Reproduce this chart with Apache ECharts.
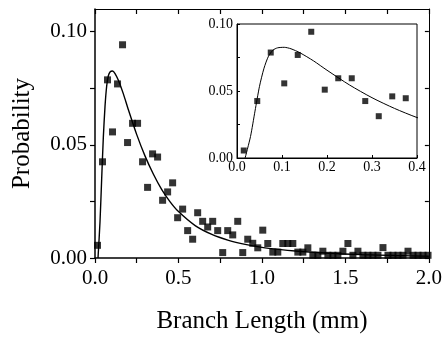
<!DOCTYPE html>
<html>
<head>
<meta charset="utf-8">
<script src="https://cdn.jsdelivr.net/npm/echarts@6/dist/echarts.min.js"></script>
<style>
html, body { margin: 0; padding: 0; background: #fff; }
#chart { width: 445px; height: 339px; }
</style>
</head>
<body>
<div id="chart"></div>
<script>
// histogram bin centres (mm) and measured probabilities
let binX = [0.015, 0.045, 0.075, 0.105, 0.135, 0.165, 0.195, 0.225, 0.255, 0.285,
    0.315, 0.345, 0.375, 0.405, 0.435, 0.465, 0.495, 0.525, 0.555, 0.585,
    0.615, 0.645, 0.675, 0.705, 0.735, 0.765, 0.795, 0.825, 0.855, 0.885,
    0.915, 0.945, 0.975, 1.005, 1.035, 1.065, 1.095, 1.125, 1.155, 1.185,
    1.215, 1.245, 1.275, 1.305, 1.335, 1.365, 1.395, 1.425, 1.455, 1.485,
    1.515, 1.545, 1.575, 1.605, 1.635, 1.665, 1.695, 1.725, 1.755, 1.785,
    1.815, 1.845, 1.875, 1.905, 1.935, 1.965, 1.995];
let binP = [0.0056, 0.0425, 0.0787, 0.0557, 0.0769, 0.0942, 0.0510, 0.0595, 0.0595, 0.0425,
    0.0312, 0.0460, 0.0446, 0.0255, 0.0292, 0.0332, 0.0178, 0.0216, 0.0121, 0.0083,
    0.0200, 0.0162, 0.0137, 0.0162, 0.0121, 0.0024, 0.0121, 0.0102, 0.0162, 0.0024,
    0.0083, 0.0065, 0.0045, 0.0123, 0.0064, 0.0026, 0.0026, 0.0064, 0.0064, 0.0064,
    0.0026, 0.0026, 0.0045, 0.0012, 0.0012, 0.0030, 0.0012, 0.0012, 0.0012, 0.0030,
    0.0064, 0.0012, 0.0030, 0.0012, 0.0012, 0.0012, 0.0012, 0.0046, 0.0012, 0.0012,
    0.0012, 0.0012, 0.0030, 0.0012, 0.0012, 0.0012, 0.0012];

// fitted curve
let fitX = [0.018, 0.03, 0.04, 0.05, 0.06, 0.07, 0.08, 0.09, 0.105, 0.12,
    0.14, 0.17, 0.2, 0.25, 0.3, 0.35, 0.4, 0.45, 0.5, 0.6,
    0.7, 0.8, 0.9, 1.0, 1.1, 1.2, 1.4, 1.6, 1.8, 2.0];
let fitY = [0, 0.016, 0.035, 0.0535, 0.067, 0.076, 0.0805, 0.0822, 0.0826, 0.0815,
    0.0785, 0.0725, 0.0655, 0.0545, 0.045, 0.037, 0.0302, 0.0248, 0.0205, 0.0143,
    0.0104, 0.0078, 0.006, 0.0047, 0.0038, 0.0031, 0.0021, 0.0015, 0.0011, 0.0008];

// tick positions
let xTicks = [0, 0.25, 0.5, 0.75, 1.0, 1.25, 1.5, 1.75, 2.0];
let xLabels = [0, 0.5, 1.0, 1.5, 2.0];
let yTicks = [0, 0.025, 0.05, 0.075, 0.1];
let yLabels = [0, 0.05, 0.1];
let insetXLabels = [0, 0.1, 0.2, 0.3, 0.4];
let insetYLabels = [0, 0.05, 0.1];
let insetMaxX = 0.4;

let serif = "'Liberation Serif', 'DejaVu Serif', serif";
let points = binX.map(function (x, i) { return [x, binP[i]]; });
let fit = fitX.map(function (x, i) { return [x, fitY[i]]; });
let insetPoints = points.filter(function (p) { return p[0] <= insetMaxX; });

let myChart = echarts.init(document.getElementById("chart"));
let option = {
    backgroundColor: '#fff',
    animation: false,
    grid: [
        {left: 95, right: 14, top: 9, bottom: 79},
        {left: 237, right: 28, top: 24, bottom: 181, show: true,
            backgroundColor: '#fff', borderColor: '#000', borderWidth: 1}
    ],
    xAxis: [
        {
            type: 'value', gridIndex: 0, min: 0, max: 2.0,
            name: 'Branch Length (mm)', nameLocation: 'middle', nameGap: 51,
            nameTextStyle: {fontFamily: serif, fontSize: 25, color: '#000'},
            axisLine: {onZero: false, lineStyle: {color: '#000', width: 1.5}},
            axisTick: {customValues: xTicks, length: 5, lineStyle: {color: '#000', width: 1.2}},
            axisLabel: {customValues: xLabels, margin: 10, fontFamily: serif, fontSize: 21, color: '#000',
                formatter: function (v) { return v.toFixed(1); }},
            splitLine: {show: false}
        },
        {
            type: 'value', gridIndex: 0, min: 0, max: 2.0, position: 'top',
            axisLine: {onZero: false, lineStyle: {color: '#000', width: 1}},
            axisTick: {customValues: xTicks, inside: true, length: 5, lineStyle: {color: '#000', width: 1.2}},
            axisLabel: {show: false},
            splitLine: {show: false}
        },
        {
            type: 'value', gridIndex: 1, min: 0, max: insetMaxX,
            axisLine: {onZero: false, lineStyle: {color: '#000', width: 1}},
            axisTick: {customValues: insetXLabels, inside: true, length: 3, lineStyle: {color: '#000'}},
            axisLabel: {customValues: insetXLabels, margin: 2, fontFamily: serif, fontSize: 14, color: '#000',
                formatter: function (v) { return v.toFixed(1); }},
            splitLine: {show: false}
        }
    ],
    yAxis: [
        {
            type: 'value', gridIndex: 0, min: 0, max: 0.11,
            name: 'Probability', nameLocation: 'middle', nameGap: 60,
            nameTextStyle: {fontFamily: serif, fontSize: 25, color: '#000'},
            axisLine: {onZero: false, lineStyle: {color: '#000', width: 1.5}},
            axisTick: {customValues: yTicks, length: 5, lineStyle: {color: '#000', width: 1.2}},
            axisLabel: {customValues: yLabels, margin: 8, fontFamily: serif, fontSize: 21, color: '#000',
                formatter: function (v) { return v.toFixed(2); }},
            splitLine: {show: false}
        },
        {
            type: 'value', gridIndex: 0, min: 0, max: 0.11, position: 'right',
            axisLine: {onZero: false, lineStyle: {color: '#000', width: 1}},
            axisTick: {customValues: yTicks, inside: true, length: 4, lineStyle: {color: '#000', width: 1.2}},
            axisLabel: {show: false},
            splitLine: {show: false}
        },
        {
            type: 'value', gridIndex: 1, min: 0, max: 0.1,
            axisLine: {onZero: false, lineStyle: {color: '#000', width: 1}},
            axisTick: {customValues: yTicks, inside: true, length: 3, lineStyle: {color: '#000'}},
            axisLabel: {customValues: insetYLabels, margin: 4, fontFamily: serif, fontSize: 14, color: '#000',
                formatter: function (v) { return v.toFixed(2); }},
            splitLine: {show: false}
        }
    ],
    series: [
        {
            type: 'scatter', xAxisIndex: 0, yAxisIndex: 0,
            symbol: 'rect', symbolSize: 7,
            itemStyle: {color: '#000'},
            data: points
        },
        {
            type: 'line', xAxisIndex: 0, yAxisIndex: 0,
            showSymbol: false, smooth: 0.25,
            lineStyle: {color: '#000', width: 1.4},
            data: fit
        },
        {
            type: 'scatter', xAxisIndex: 2, yAxisIndex: 2,
            symbol: 'rect', symbolSize: 6,
            itemStyle: {color: '#000'},
            data: insetPoints
        },
        {
            type: 'line', xAxisIndex: 2, yAxisIndex: 2, clip: true,
            showSymbol: false, smooth: 0.25,
            lineStyle: {color: '#000', width: 1},
            data: fit
        }
    ]
};
myChart.setOption(option);
</script>
</body>
</html>
